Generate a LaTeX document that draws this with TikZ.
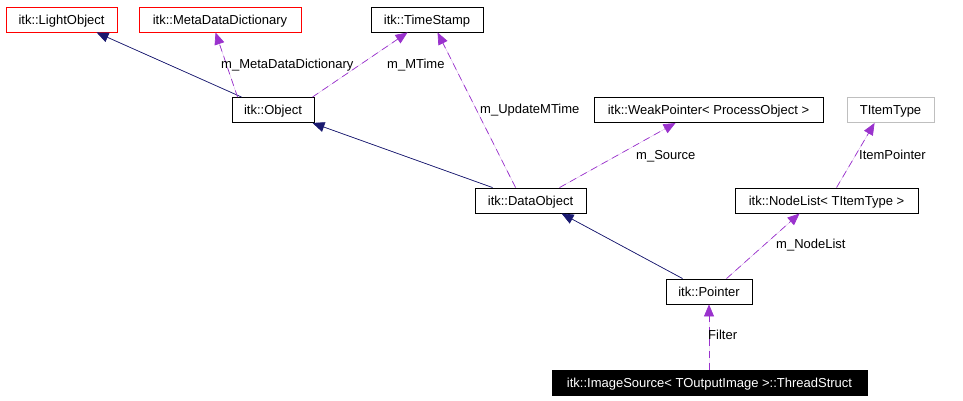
\documentclass[tikz,border=0pt]{standalone}
\usepackage{fontspec}
\setmainfont{Liberation Sans}
\usetikzlibrary{arrows.meta, positioning}
\definecolor{dxbg}{HTML}{FFFFFF}
\definecolor{dxtext}{HTML}{000000}
\definecolor{dxnavy}{HTML}{191970}
\definecolor{dxorchid}{HTML}{9A32CD}
\definecolor{dxgrey}{HTML}{BFBFBF}
\definecolor{dxred}{HTML}{FF0000}
\tikzset{
  cls/.style={rectangle, draw=dxtext, fill=dxbg, text=dxtext, line width=0.9pt,
              inner sep=0pt, minimum height=25pt, text height=12.4pt, text depth=3pt},
  clsext/.style={cls, draw=dxred},
  clsgrey/.style={cls, draw=dxgrey},
  clsroot/.style={cls, fill=dxtext, text=dxbg},
  inh/.style={-{Triangle[length=12pt, width=10pt]}, draw=dxnavy, fill=dxnavy, line width=0.7pt},
  usg/.style={-{Triangle[length=12pt, width=10pt]}, draw=dxorchid, fill=dxorchid, line width=0.7pt,
              dash pattern=on 7pt off 5pt},
  lbl/.style={anchor=base west, inner sep=0pt, text=dxtext},
}
\begin{document}
\begin{tikzpicture}[x=1pt, y=-1pt, every node/.style={font=\fontsize{13}{15}\selectfont}]
  \useasboundingbox[fill=dxbg] (0,0) rectangle (963,400);
  \node[clsext, minimum width=111pt] (light) at (61.5,19.5) {itk::LightObject};
  \node[clsext, minimum width=162pt] (meta) at (220,19.5) {itk::MetaDataDictionary};
  \node[cls, minimum width=112pt] (stamp) at (427,19.5) {itk::TimeStamp};
  \node[cls, minimum width=82pt] (obj) at (273,110) {itk::Object};
  \node[cls, minimum width=229pt] (weak) at (708.5,110) {itk::WeakPointer< ProcessObject >};
  \node[clsgrey, minimum width=87pt] (titem) at (890.5,110) {TItemType};
  \node[cls, minimum width=111pt] (dobj) at (530.5,200.5) {itk::DataObject};
  \node[cls, minimum width=183pt] (nlist) at (826.5,200.5) {itk::NodeList< TItemType >};
  \node[cls, minimum width=86pt] (ptr) at (709,291.5) {itk::Pointer};
  \node[clsroot, minimum width=315pt] (thread) at (709.5,382.5) {itk::ImageSource< TOutputImage >::ThreadStruct};
  \draw[inh] ([xshift=10pt]obj.north west) -- ([xshift=91pt]light.south west);
  \draw[usg] ([xshift=6pt]obj.north west) -- ([xshift=77pt]meta.south west);
  \draw[usg] ([xshift=-2pt]obj.north east) -- ([xshift=37pt]stamp.south west);
  \draw[inh] ([xshift=18pt]dobj.north west) -- ([xshift=-2pt]obj.south east);
  \draw[usg] ([xshift=41pt]dobj.north west) -- ([xshift=67pt]stamp.south west);
  \draw[usg] ([xshift=85pt]dobj.north west) -- ([xshift=82pt]weak.south west);
  \draw[inh] ([xshift=17pt]ptr.north west) -- ([xshift=87pt]dobj.south west);
  \draw[usg] ([xshift=61pt]ptr.north west) -- ([xshift=65pt]nlist.south west);
  \draw[usg] ([xshift=102pt]nlist.north west) -- ([xshift=28pt]titem.south west);
  \draw[usg] (thread.north -| ptr.south) -- (ptr.south);
  \node[lbl] (lmeta) at (221,68) {m\_MetaDataDictionary};
  \node[lbl] (lmtime) at (387,68) {m\_MTime};
  \node[lbl] (lupd) at (480,113) {m\_UpdateMTime};
  \node[lbl] (lsrc) at (636,159) {m\_Source};
  \node[lbl] (litem) at (859,159) {ItemPointer};
  \node[lbl] (lnode) at (776,248) {m\_NodeList};
  \node[lbl] (lfilt) at (708,339) {Filter};
\end{tikzpicture}
\end{document}
